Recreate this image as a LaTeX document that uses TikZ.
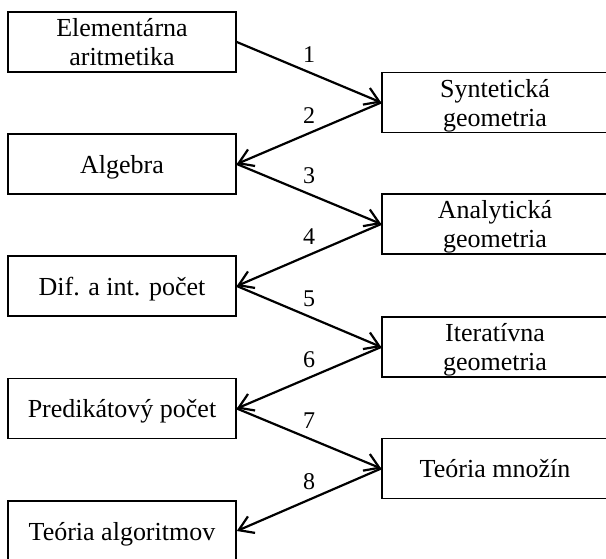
\documentclass[tikz,border=0pt]{standalone}
\usepackage{fontspec}
\setmainfont{Liberation Serif}
\usetikzlibrary{arrows.meta}
\tikzset{
  topic/.style={draw, line width=0.8pt, minimum height=30pt, inner sep=0pt,
    align=center, text depth=0pt, font=\fontsize{13}{14.5}\selectfont},
  link/.style={line width=1.1pt, -{Straight Barb[length=7pt,width=9pt]}},
  num/.style={midway, above=4.5pt, inner sep=0pt, font=\fontsize{12}{14}\selectfont}
}
\newcommand{\lnode}[3]{%
 \node[topic, minimum width=114pt] (#1) at (122,#2) {#3};}
\newcommand{\rnode}[3]{%
 \node[topic, minimum width=113pt] (#1) at (495,#2) {#3};}

\begin{document}
\begin{tikzpicture}[x=0.5pt, y=-0.5pt]
\useasboundingbox (0,0) rectangle (606,558);
\lnode{ari}{42}{Elementárna\\aritmetika}
\lnode{alg}{164}{Algebra}
\lnode{dif}{286}{Dif. a int. počet}
\lnode{pred}{408.5}{Predikátový počet}
\lnode{alo}{531}{Teória algoritmov}
\rnode{syn}{102.5}{Syntetická\\geometria}
\rnode{ana}{224}{Analytická\\geometria}
\rnode{ite}{347}{Iteratívna\\geometria}
\rnode{mno}{468.5}{Teória množín}
\draw[link] (ari.east) -- node[num] {1} (syn.west);
\draw[link] (syn.west) -- node[num] {2} (alg.east);
\draw[link] (alg.east) -- node[num] {3} (ana.west);
\draw[link] (ana.west) -- node[num] {4} (dif.east);
\draw[link] (dif.east) -- node[num] {5} (ite.west);
\draw[link] (ite.west) -- node[num] {6} (pred.east);
\draw[link] (pred.east) -- node[num] {7} (mno.west);
\draw[link] (mno.west) -- node[num] {8} (alo.east);
\end{tikzpicture}
\end{document}
